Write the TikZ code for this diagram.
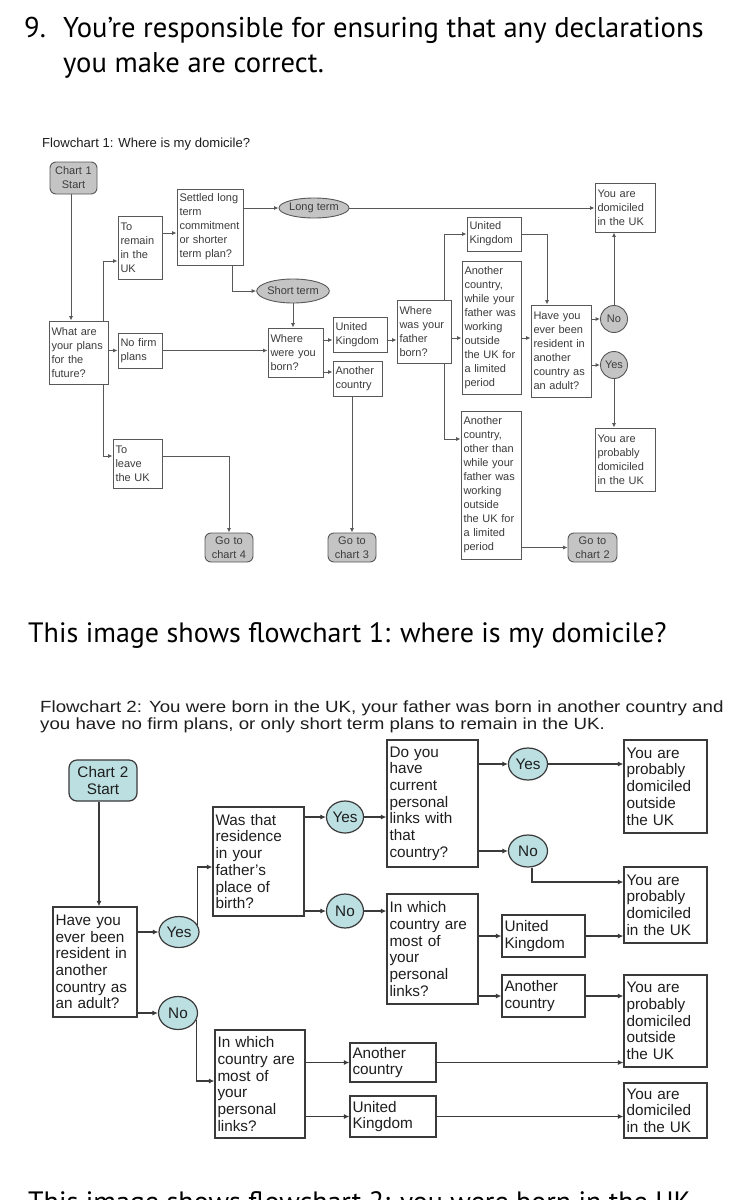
\documentclass[tikz,border=0pt]{standalone}
\usepackage{fontspec}
\usetikzlibrary{arrows.meta,shapes.geometric}
\newfontfamily\arialf{Liberation Sans}
\newfontfamily\govf{PT Sans}
\definecolor{c1line}{HTML}{585858}
\definecolor{c1text}{HTML}{3C3C3C}
\definecolor{c1fill}{HTML}{C4C4C4}
\definecolor{c2line}{HTML}{3A3A3A}
\definecolor{c2text}{HTML}{1E1E1E}
\definecolor{c2fill}{HTML}{BCDFE2}
\newcommand\cfa{\arialf\fontsize{11}{14}\selectfont}
\newcommand\cfb{\arialf\fontsize{15.3}{16.7}\selectfont}
\newcommand\bx[7][]{%
 \pgfmathsetmacro\bxw{#5-#3}\pgfmathsetmacro\bxh{#6-#4}%
 \pgfmathsetmacro\bxcx{(#3+#5)/2}\pgfmathsetmacro\bxcy{(#4+#6)/2}%
 \pgfmathsetmacro\bxtw{\bxw-5}%
 \node[#1, minimum width=\bxw pt, minimum height=\bxh pt, text width=\bxtw pt] (#2) at (\bxcx,\bxcy) {#7};}
\newcommand\el[7][]{%
 \node[#1, minimum width=#5pt, minimum height=#6pt] (#2) at (#3,#4) {#7};}
\tikzset{
 c1/.style={draw=c1line, line width=0.9pt, text=c1text, font=\cfa, align=left, inner xsep=2.5pt, inner ysep=1pt},
 c1t/.style={c1, rounded corners=6pt, fill=c1fill, align=center},
 c1e/.style={ellipse, draw=c1line, line width=0.9pt, fill=c1fill, text=c1text, font=\cfa, inner sep=0pt},
 c2/.style={draw=c2line, line width=1.2pt, text=c2text, font=\cfb, align=left, inner xsep=2.5pt, inner ysep=1pt},
 c2t/.style={c2, rounded corners=8pt, fill=c2fill, align=center},
 c2e/.style={ellipse, draw=c2line, line width=1.2pt, fill=c2fill, text=c2text, font=\cfb, inner sep=0pt},
 a1/.style={draw=c1line, line width=0.9pt, -{Latex[length=4.5pt,width=4pt]}},
 a2/.style={draw=c2line, line width=1.2pt, -{Latex[length=5.5pt,width=5pt]}},
 bigtxt/.style={font=\govf\fontsize{28.6}{36}\selectfont, text=black, inner sep=0pt, anchor=base west},
 captxt/.style={font=\govf\fontsize{28}{34}\selectfont, text=black, inner sep=0pt, anchor=base west},
 smalltitle/.style={text=c2text, inner sep=0pt, anchor=base west},
}
\begin{document}
\begin{tikzpicture}[x=1pt,y=-1pt]
\useasboundingbox[fill=white] (0,0) rectangle (739,1200);
% heading
\node[bigtxt] (num) at (24,37) {9.};
\node[bigtxt] (h1) at (63,37) {You’re responsible for ensuring that any declarations};
\node[bigtxt] (h2) at (63,72) {you make are correct.};
% ---------------- Flowchart 1 ----------------
\node[smalltitle, font=\arialf\fontsize{13.1}{15}\selectfont] (t1) at (42,147.5) {Flowchart 1: Where is my domicile?};
\bx[c1t]{start1}{50}{162}{97}{194}{Chart 1\\Start}
\bx[c1]{whatare}{49}{321}{108}{384}{What are\\your plans\\for the\\future?}
\bx[c1]{toremain}{118}{216}{162}{279}{To\\remain\\in the\\UK}
\bx[c1]{settled}{177}{189}{243}{265}{Settled long\\term\\commitment\\or shorter\\term plan?}
\el[c1e]{longterm}{314}{208}{59}{20}{Long term}
\bx[c1]{youdom1}{595}{183}{655}{232}{You are\\domiciled\\in the UK}
\el[c1e]{shortterm}{293}{291}{60}{24}{Short term}
\bx[c1]{wherewere}{268}{328}{323}{377}{Where\\were you\\born?}
\bx[c1]{nofirm}{118}{333}{162}{368}{No firm\\plans}
\bx[c1]{toleave}{113}{439}{162}{488}{To\\leave\\the UK}
\bx[c1t]{go4}{205}{533}{253}{562}{Go to\\chart 4}
\bx[c1]{uk1}{333}{317}{387}{352}{United\\Kingdom}
\bx[c1]{another1}{333}{361}{382}{396}{Another\\country}
\bx[c1t]{go3}{328}{533}{376}{562}{Go to\\chart 3}
\bx[c1]{father}{397}{300}{451}{363}{Where\\was your\\father\\born?}
\bx[c1]{uk2}{467}{217}{521}{251}{United\\Kingdom}
\bx[c1]{while}{462}{261}{521}{394}{Another\\country,\\while your\\father was\\working\\outside\\the UK for\\a limited\\period}
\bx[c1]{other}{461}{411}{521}{559}{Another\\country,\\other than\\while your\\father was\\working\\outside\\the UK for\\a limited\\period}
\bx[c1t]{go2}{568}{533}{617}{562}{Go to\\chart 2}
\bx[c1]{haveyou1}{531}{305}{591}{397}{Have you\\ever been\\resident in\\another\\country as\\an adult?}
\el[c1e]{no1}{614}{319}{27}{27}{No}
\el[c1e]{yes1}{614}{365}{27}{27}{Yes}
\bx[c1]{prob1}{595}{428}{655}{491}{You are\\probably\\domiciled\\in the UK}
% connectors chart 1
\draw[a1] (start1.south -| 71,0) -- (71,0 |- whatare.north);
\draw[a1] (whatare.north -| 103,0) |- (toremain.west |- 0,261);
\draw[a1] (toremain.east |- 0,233) -- (settled.west |- 0,233);
\draw[a1] (settled.east |- longterm.west) -- (longterm.west);
\draw[a1] (longterm.east) -- (youdom1.west |- longterm.east);
\draw[a1] (settled.south -| 232,0) |- (shortterm.west);
\draw[a1] (shortterm.south) -- (shortterm.south |- wherewere.north);
\draw[a1] (whatare.east |- nofirm.west) -- (nofirm.west);
\draw[a1] (nofirm.east) -- (wherewere.west |- nofirm.east);
\draw[a1] (whatare.south -| 103,0) |- (toleave.west |- 0,456);
\draw[a1] (toleave.east |- 0,456) -| (go4.north);
\draw[a1] (wherewere.east |- 0,340) -- (uk1.west |- 0,340);
\draw[a1] (wherewere.east |- 0,372) -- (another1.west |- 0,372);
\draw[a1] (another1.south -| go3.north) -- (go3.north);
\draw[a1] (uk1.east |- 0,340) -- (father.west |- 0,340);
\draw[a1] (father.north -| 444,0) |- (uk2.west);
\draw[a1] (father.east |- 0,338) -- (while.west |- 0,338);
\draw[a1] (father.south -| 444,0) |- (other.west |- 0,439);
\draw[a1] (other.east |- go2.west) -- (go2.west);
\draw[a1] (uk2.east) -| (547,0 |- haveyou1.north);
\draw[a1] (while.east |- 0,338) -- (haveyou1.west |- 0,338);
\draw[a1] (haveyou1.east |- no1.west) -- (no1.west);
\draw[a1] (no1.north) -- (no1.north |- youdom1.south);
\draw[a1] (haveyou1.east |- yes1.west) -- (yes1.west);
\draw[a1] (yes1.south) -- (yes1.south |- prob1.north);
\node[captxt] (cap1) at (28,642.5) {This image shows flowchart 1: where is my domicile?};
% ---------------- Flowchart 2 ----------------
\node[smalltitle, font=\arialf\fontsize{16.2}{17}\selectfont] (t2a) at (40,712.5) {\scalebox{1.155}[1]{Flowchart 2: You were born in the UK, your father was born in another country and}};
\node[smalltitle, font=\arialf\fontsize{16.2}{17}\selectfont] (t2b) at (40,729.5) {\scalebox{1.155}[1]{you have no firm plans, or only short term plans to remain in the UK.}};
\bx[c2t]{start2}{69}{760}{137}{801}{Chart 2\\Start}
\bx[c2]{haveyou2}{53}{907}{137}{1017}{Have you\\ever been\\resident in\\another\\country as\\an adult?}
\el[c2e]{yes2a}{179}{932}{40}{31}{Yes}
\bx[c2]{wasthat}{213}{807}{304}{916}{Was that\\residence\\in your\\father’s\\place of\\birth?}
\el[c2e]{yes2b}{345}{817}{37}{32}{Yes}
\el[c2e]{no2b}{345}{911}{37}{34}{No}
\el[c2e]{no2a}{178}{1013}{39}{33}{No}
\bx[c2]{doyou}{387}{740}{478}{867}{Do you\\have\\current\\personal\\links with\\that\\country?}
\el[c2e]{yes2c}{528}{764}{39}{32}{Yes}
\el[c2e]{no2c}{528}{851}{39}{32}{No}
\bx[c2]{outside1}{624}{740}{707}{833}{You are\\probably\\domiciled\\outside\\the UK}
\bx[c2]{probuk2}{624}{867}{707}{943}{You are\\probably\\domiciled\\in the UK}
\bx[c2]{inwhich1}{387}{894}{478}{1004}{In which\\country are\\most of\\your\\personal\\links?}
\bx[c2]{uk3}{502}{915}{585}{957}{United\\Kingdom}
\bx[c2]{another3}{502}{975}{585}{1017}{Another\\country}
\bx[c2]{outside2}{624}{975}{707}{1067}{You are\\probably\\domiciled\\outside\\the UK}
\bx[c2]{inwhich2}{215}{1030}{305}{1138}{In which\\country are\\most of\\your\\personal\\links?}
\bx[c2]{another4}{350}{1043}{436}{1082}{Another\\country}
\bx[c2]{uk4}{350}{1096}{436}{1137}{United\\Kingdom}
\bx[c2]{dom2}{624}{1083}{707}{1138}{You are\\domiciled\\in the UK}
% connectors chart 2
\draw[a2] (start2.south -| 99,0) -- (99,0 |- haveyou2.north);
\draw[a2] (haveyou2.east |- yes2a.west) -- (yes2a.west);
\draw[a2] (yes2a.20) |- (wasthat.west |- 0,867);
\draw[a2] (wasthat.east |- yes2b.west) -- (yes2b.west);
\draw[a2] (yes2b.east) -- (doyou.west |- yes2b.east);
\draw[a2] (wasthat.east |- no2b.west) -- (no2b.west);
\draw[a2] (no2b.east) -- (inwhich1.west |- no2b.east);
\draw[a2] (haveyou2.east |- no2a.west) -- (no2a.west);
\draw[a2] (no2a.-20) |- (inwhich2.west |- 0,1081);
\draw[a2] (doyou.east |- yes2c.west) -- (yes2c.west);
\draw[a2] (yes2c.east) -- (outside1.west |- yes2c.east);
\draw[a2] (doyou.east |- no2c.west) -- (no2c.west);
\draw[a2] (no2c.south -| 532,0) |- (probuk2.west |- 0,882);
\draw[a2] (inwhich1.east |- uk3.west) -- (uk3.west);
\draw[a2] (uk3.east) -- (probuk2.west |- uk3.east);
\draw[a2] (inwhich1.east |- another3.west) -- (another3.west);
\draw[a2] (another3.east) -- (outside2.west |- another3.east);
\draw[a2] (inwhich2.east |- another4.west) -- (another4.west);
\draw[a2] (another4.east) -- (outside2.west |- another4.east);
\draw[a2] (inwhich2.east |- uk4.west) -- (uk4.west);
\draw[a2] (uk4.east) -- (dom2.west |- uk4.east);
\node[captxt] (cap2) at (28,1211) {This image shows flowchart 2: you were born in the UK};
\end{tikzpicture}
\end{document}
